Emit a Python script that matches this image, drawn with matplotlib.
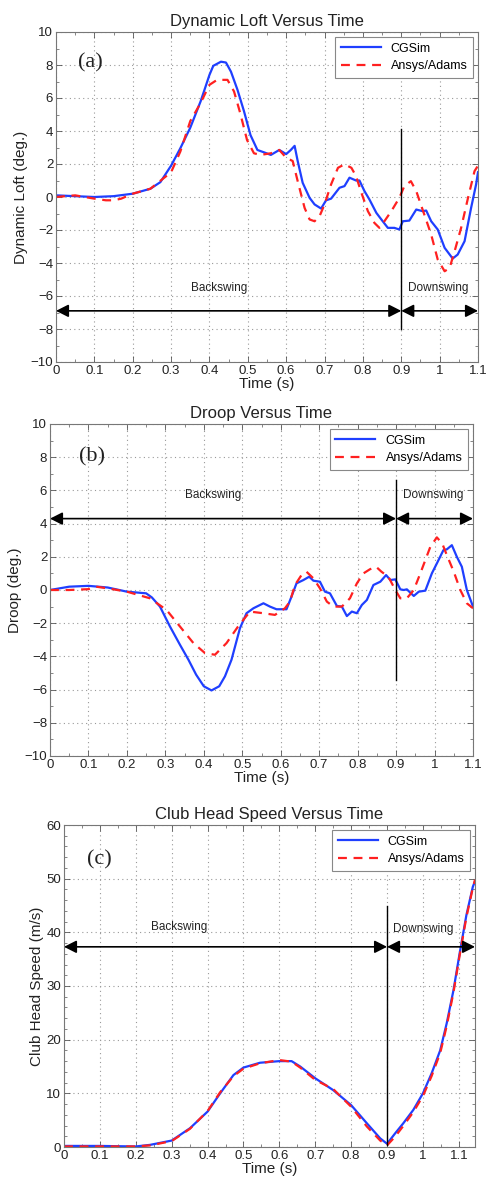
import matplotlib
matplotlib.use("Agg")
import matplotlib.pyplot as plt
from matplotlib.ticker import MultipleLocator

plt.rcParams['font.family'] = ['Liberation Sans', 'DejaVu Sans']

# ---------------- Data ----------------
# (a) Dynamic loft
loft_t_cg = [0, 0.05, 0.1, 0.15, 0.2, 0.246, 0.272, 0.3, 0.324, 0.35, 0.377, 0.39, 0.4, 0.41, 0.43, 0.443,
             0.456, 0.473, 0.49, 0.507, 0.525, 0.543, 0.56, 0.582, 0.6, 0.612, 0.622, 0.63, 0.643,
             0.661, 0.674, 0.691, 0.704, 0.717, 0.739, 0.752, 0.765, 0.782, 0.791, 0.804, 0.817,
             0.835, 0.848, 0.865, 0.882, 0.895, 0.904, 0.921, 0.939, 0.956, 0.965, 0.978, 0.995,
             1.013, 1.034, 1.047, 1.065, 1.082, 1.095, 1.1]
loft_cg = [0.1, 0.05, 0.0, 0.05, 0.2, 0.5, 0.9, 1.9, 2.95, 4.2, 5.8, 6.7, 7.4, 7.95, 8.2, 8.15,
           7.6, 6.5, 5.2, 3.75, 2.85, 2.7, 2.55, 2.85, 2.6, 2.85, 3.1, 2.18, 0.86,
           -0.05, -0.45, -0.7, -0.2, -0.1, 0.56, 0.66, 1.17, 1.0, 1.0, 0.36, -0.15,
           -0.96, -1.36, -1.87, -1.87, -1.97, -1.47, -1.43, -0.76, -0.86, -0.82, -1.47, -1.97,
           -3.08, -3.73, -3.49, -2.68, -0.66, 0.76, 1.5]
loft_t_an = [0, 0.05, 0.1, 0.13, 0.15, 0.17, 0.2, 0.246, 0.3, 0.324, 0.35, 0.377, 0.4, 0.42, 0.447,
             0.464, 0.48, 0.498, 0.516, 0.533, 0.56, 0.582, 0.6, 0.617, 0.63, 0.648, 0.661, 0.674,
             0.687, 0.7, 0.717, 0.735, 0.752, 0.77, 0.782, 0.796, 0.813, 0.83, 0.843, 0.856, 0.874,
             0.895, 0.908, 0.925, 0.939, 0.96, 0.978, 0.995, 1.013, 1.026, 1.039, 1.056, 1.074,
             1.091, 1.1]
loft_an = [0.0, 0.1, -0.1, -0.2, -0.2, -0.1, 0.2, 0.5, 1.5, 2.75, 4.6, 5.7, 6.8, 7.1, 7.1,
           6.4, 5.1, 3.45, 2.65, 2.55, 2.65, 2.85, 2.38, 2.18, 0.96, -0.66, -1.36, -1.47,
           -1.16, -0.45, 0.76, 1.77, 1.98, 1.77, 1.27, 0.26, -0.86, -1.57, -1.87, -1.47, -0.86,
           -0.05, 0.66, 0.96, 0.36, -1.06, -2.28, -3.79, -4.5, -4.3, -3.29, -1.87, -0.05,
           1.57, 1.9]

# (b) Droop
droop_t_cg = [0, 0.05, 0.1, 0.15, 0.2, 0.25, 0.265, 0.286, 0.312, 0.338, 0.36, 0.38, 0.4, 0.42, 0.44,
              0.455, 0.472, 0.494, 0.511, 0.529, 0.555, 0.572, 0.589, 0.615, 0.628, 0.641, 0.659,
              0.674, 0.685, 0.702, 0.715, 0.728, 0.746, 0.759, 0.772, 0.785, 0.798, 0.811, 0.824,
              0.841, 0.859, 0.874, 0.885, 0.898, 0.911, 0.92, 0.928, 0.946, 0.959, 0.976, 0.993,
              1.006, 1.023, 1.032, 1.045, 1.058, 1.071, 1.084, 1.1]
droop_cg = [0.0, 0.2, 0.25, 0.15, -0.1, -0.2, -0.45, -1.0, -2.2, -3.3, -4.2, -5.1, -5.8, -6.05, -5.8,
            -5.2, -4.2, -2.3, -1.4, -1.1, -0.8, -1.0, -1.16, -1.16, -0.4, 0.4, 0.6,
            0.8, 0.56, 0.5, -0.1, -0.2, -0.96, -1.0, -1.57, -1.3, -1.4, -0.9, -0.6,
            0.3, 0.5, 0.9, 0.6, 0.64, 0.04, 0.0, 0.04, -0.36, -0.1, -0.04, 1.0,
            1.6, 2.4, 2.45, 2.7, 2.0, 1.4, 0.0, -1.0]
droop_t_an = [0, 0.05, 0.1, 0.12, 0.15, 0.2, 0.26, 0.303, 0.338, 0.373, 0.403, 0.429, 0.459, 0.489,
              0.52, 0.555, 0.585, 0.611, 0.624, 0.637, 0.654, 0.667, 0.685, 0.702, 0.72, 0.737,
              0.759, 0.78, 0.798, 0.815, 0.832, 0.848, 0.862, 0.88, 0.898, 0.911, 0.928, 0.946,
              0.963, 0.976, 0.989, 1.006, 1.02, 1.032, 1.05, 1.067, 1.084, 1.1]
droop_an = [0.0, 0.0, 0.05, 0.2, 0.1, -0.1, -0.5, -1.2, -2.2, -3.2, -3.8, -3.9, -3.2, -2.2,
            -1.3, -1.4, -1.5, -1.1, -0.7, 0.3, 0.9, 1.1, 0.7, 0.1, -0.7, -1.0,
            -1.0, -0.5, 0.4, 1.0, 1.25, 1.4, 1.1, 0.8, 0.0, -0.5, -0.5, 0.0,
            1.0, 1.8, 2.6, 3.17, 2.8, 2.1, 1.1, 0.0, -0.8, -1.1]

# (c) Club head speed
speed_t_cg = [0, 0.1, 0.2, 0.24, 0.3, 0.351, 0.4, 0.435, 0.472, 0.5, 0.546, 0.6, 0.634, 0.658, 0.7,
              0.75, 0.8, 0.844, 0.881, 0.9, 0.922, 0.945, 0.973, 1.0, 1.024, 1.048, 1.066, 1.085,
              1.102, 1.121, 1.139, 1.145]
speed_cg = [0.2, 0.2, 0.1, 0.4, 1.2, 3.5, 6.6, 10.0, 13.4, 14.8, 15.7, 16.0, 16.0, 15.0, 12.8,
            10.6, 7.8, 4.4, 1.6, 0.6, 2.5, 4.4, 6.9, 10.0, 13.7, 18.0, 23.0, 29.2,
            36.0, 43.2, 48.5, 49.5]
speed_t_an = [0, 0.1, 0.2, 0.24, 0.3, 0.351, 0.4, 0.435, 0.472, 0.5, 0.546, 0.6, 0.634, 0.658, 0.7,
              0.75, 0.8, 0.844, 0.881, 0.9, 0.922, 0.945, 0.973, 1.0, 1.024, 1.048, 1.066, 1.085,
              1.102, 1.121, 1.139, 1.145]
speed_an = [0.1, 0.1, 0.1, 0.3, 1.1, 3.4, 6.7, 10.2, 13.2, 14.6, 15.6, 16.2, 15.9, 14.8, 12.5,
            10.8, 7.5, 3.8, 1.2, 0.3, 1.9, 3.9, 6.5, 9.5, 13.2, 17.5, 22.5, 28.8,
            35.6, 42.8, 48.3, 49.8]

W, H = 488, 1183
fig = plt.figure(figsize=(W / 100, H / 100), dpi=100)


def make_ax(l, t, r, b):
    return fig.add_axes([l / W, 1 - b / H, (r - l) / W, (b - t) / H])


BLUE = '#1f3fff'
RED = '#ff2020'
TXT = '#222222'


def style(ax, xlim, ylim, xmaj, xmin, ymaj, ymin, title, ylabel):
    ax.set_xlim(*xlim)
    ax.set_ylim(*ylim)
    ax.xaxis.set_major_locator(MultipleLocator(xmaj))
    ax.xaxis.set_minor_locator(MultipleLocator(xmin))
    ax.yaxis.set_major_locator(MultipleLocator(ymaj))
    ax.yaxis.set_minor_locator(MultipleLocator(ymin))
    ax.tick_params(which='both', direction='in', top=True, right=True, colors='#555555',
                   labelcolor=TXT, labelsize=9.5, pad=2)
    ax.tick_params(which='major', length=4, width=0.6)
    ax.tick_params(which='minor', length=2, width=0.5)
    ax.grid(True, which='major', linestyle=(0, (1, 3)), color='#999999', linewidth=0.8)
    for s in ax.spines.values():
        s.set_color('#777777')
        s.set_linewidth(0.8)
    ax.set_title(title, fontsize=12, color=TXT, pad=4)
    ax.set_xlabel('Time (s)', fontsize=11, color=TXT, labelpad=0)
    ax.set_ylabel(ylabel, fontsize=11, color=TXT, labelpad=2)
    fmt = lambda v, p: ('%g' % round(v, 3)).replace('-', '\u2212')
    ax.xaxis.set_major_formatter(plt.FuncFormatter(fmt))
    ax.yaxis.set_major_formatter(plt.FuncFormatter(fmt))


def plot_lines(ax, t1, y1, t2, y2):
    ax.plot(t1, y1, color=BLUE, lw=1.6, label='CGSim')
    ax.plot(t2, y2, color=RED, lw=1.6, dashes=(4, 3), label='Ansys/Adams')
    leg = ax.legend(loc='upper right', fontsize=9, fancybox=False, framealpha=1,
                    edgecolor='#888888', handlelength=3.2, borderaxespad=0.4,
                    borderpad=0.45, labelspacing=0.45)
    leg.get_frame().set_linewidth(0.8)


def arrow(ax, x0, x1, y):
    ax.annotate('', xy=(x1, y), xytext=(x0, y),
                arrowprops=dict(arrowstyle='<|-|>,head_length=0.75,head_width=0.38',
                                color='black', lw=1.2, shrinkA=0, shrinkB=0,
                                mutation_scale=10))


# ---- (a)
ax = make_ax(56, 32, 478, 362)
plot_lines(ax, loft_t_cg, loft_cg, loft_t_an, loft_an)
style(ax, (0, 1.1), (-10, 10), 0.1, 0.05, 2, 1, 'Dynamic Loft Versus Time', 'Dynamic Loft (deg.)')
ax.plot([0.9, 0.9], [4.1, -8], color='black', lw=1.0)
arrow(ax, 0, 0.9, -6.9)
arrow(ax, 0.9, 1.1, -6.9)
ax.text(0.425, -5.5, 'Backswing', fontsize=8.5, ha='center', va='center', color=TXT)
ax.text(0.997, -5.5, 'Downswing', fontsize=8.5, ha='center', va='center', color=TXT)
ax.text(0.09, 8.1, '(a)', fontsize=16, family='Liberation Serif', ha='center', va='center', color=TXT)

# ---- (b)
ax = make_ax(50, 424, 473, 756)
plot_lines(ax, droop_t_cg, droop_cg, droop_t_an, droop_an)
style(ax, (0, 1.1), (-10, 10), 0.1, 0.05, 2, 1, 'Droop Versus Time', 'Droop (deg.)')
ax.plot([0.9, 0.9], [6.6, -5.4], color='black', lw=1.0)
arrow(ax, 0, 0.9, 4.3)
arrow(ax, 0.9, 1.1, 4.3)
ax.text(0.425, 5.7, 'Backswing', fontsize=8.5, ha='center', va='center', color=TXT)
ax.text(0.997, 5.7, 'Downswing', fontsize=8.5, ha='center', va='center', color=TXT)
ax.text(0.108, 8.05, '(b)', fontsize=16, family='Liberation Serif', ha='center', va='center', color=TXT)

# ---- (c)
ax = make_ax(64, 825, 475, 1147)
plot_lines(ax, speed_t_cg, speed_cg, speed_t_an, speed_an)
style(ax, (0, 1.145), (0, 60), 0.1, 0.05, 10, 2, 'Club Head Speed Versus Time', 'Club Head Speed (m/s)')
ax.plot([0.9, 0.9], [0.3, 45], color='black', lw=1.0)
arrow(ax, 0, 0.9, 37.3)
arrow(ax, 0.9, 1.145, 37.3)
ax.text(0.321, 41, 'Backswing', fontsize=8.5, ha='center', va='center', color=TXT)
ax.text(1.0, 40.7, 'Downswing', fontsize=8.5, ha='center', va='center', color=TXT)
ax.text(0.098, 53.5, '(c)', fontsize=16, family='Liberation Serif', ha='center', va='center', color=TXT)

fig.savefig('out.png', dpi=100)
